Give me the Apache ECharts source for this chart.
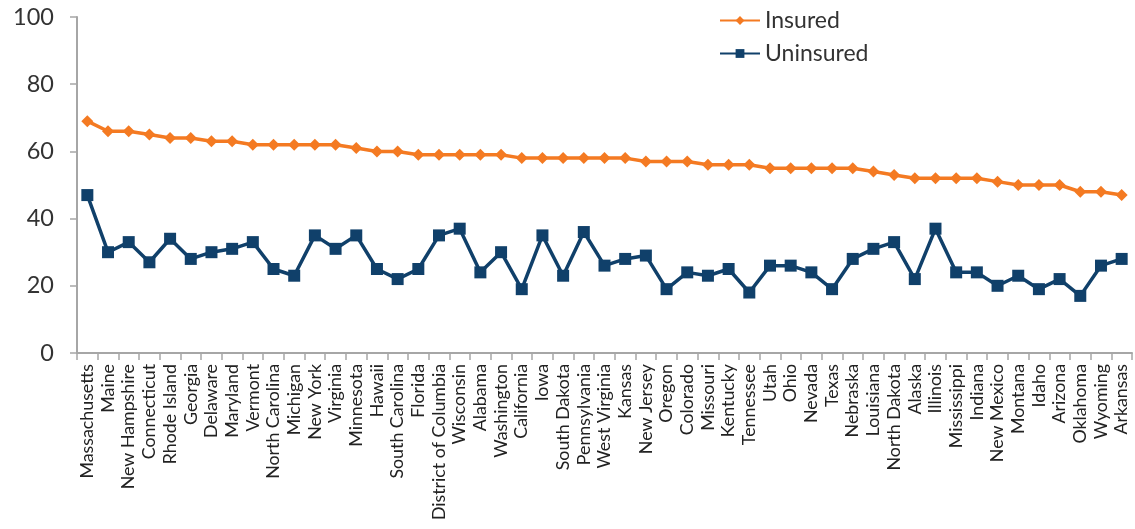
<!DOCTYPE html>
<html>
<head>
<meta charset="utf-8">
<script src="https://cdn.jsdelivr.net/npm/echarts@6/dist/echarts.min.js"></script>
<style>
  html, body { margin: 0; padding: 0; background: #fff; }
  #chart { width: 1135px; height: 529px; }
</style>
</head>
<body>
<div id="chart"></div>
<script>
const states = ['Massachusetts','Maine','New Hampshire','Connecticut','Rhode Island','Georgia','Delaware','Maryland','Vermont','North Carolina','Michigan','New York','Virginia','Minnesota','Hawaii','South Carolina','Florida','District of Columbia','Wisconsin','Alabama','Washington','California','Iowa','South Dakota','Pennsylvania','West Virginia','Kansas','New Jersey','Oregon','Colorado','Missouri','Kentucky','Tennessee','Utah','Ohio','Nevada','Texas','Nebraska','Louisiana','North Dakota','Alaska','Illinois','Mississippi','Indiana','New Mexico','Montana','Idaho','Arizona','Oklahoma','Wyoming','Arkansas'];

const insured = [69,66,66,65,64,64,63,63,62,62,62,62,62,61,60,60,59,59,59,59,59,58,58,58,58,58,58,57,57,57,56,56,56,55,55,55,55,55,54,53,52,52,52,52,51,50,50,50,48,48,47];

const uninsured = [47,30,33,27,34,28,30,31,33,25,23,35,31,35,25,22,25,35,37,24,30,19,35,23,36,26,28,29,19,24,23,25,18,26,26,24,19,28,31,33,22,37,24,24,20,23,19,22,17,26,28];

const yTicks = [0, 20, 40, 60, 80, 100];

const chart = echarts.init(document.getElementById('chart'));
const font = 'Lato, "Open Sans", sans-serif';

chart.setOption({
  animation: false,
  textStyle: { fontFamily: font },
  grid: { left: 77, right: 3, top: 17, bottom: 176, containLabel: false },
  legend: {
    orient: 'vertical',
    left: 714,
    top: 4,
    itemWidth: 40,
    itemHeight: 11,
    itemGap: 10,
    textStyle: { fontSize: 23, color: '#333', fontFamily: font },
    data: ['Insured', 'Uninsured']
  },
  xAxis: {
    type: 'category',
    data: states,
    boundaryGap: true,
    axisLine: { lineStyle: { color: '#a6a6a6', width: 2 } },
    axisTick: { show: true, alignWithLabel: false, length: 7, lineStyle: { color: '#a6a6a6', width: 1.5 } },
    axisLabel: { rotate: 90, interval: 0, fontSize: 17.8, color: '#222', margin: 11, fontFamily: font }
  },
  yAxis: {
    type: 'value',
    min: yTicks[0],
    max: yTicks[yTicks.length - 1],
    interval: 20,
    splitLine: { show: false },
    axisLine: { show: true, lineStyle: { color: '#a6a6a6', width: 2 } },
    axisTick: { show: true, length: 7, lineStyle: { color: '#a6a6a6', width: 1.5 } },
    axisLabel: { fontSize: 23.5, color: '#333', margin: 23, fontFamily: font }
  },
  series: [
    {
      name: 'Insured',
      type: 'line',
      data: insured,
      symbol: 'diamond',
      symbolSize: 12,
      color: '#F47A22',
      lineStyle: { width: 3.5, color: '#F47A22' },
      itemStyle: { color: '#F47A22' }
    },
    {
      name: 'Uninsured',
      type: 'line',
      data: uninsured,
      symbol: 'rect',
      symbolSize: 12,
      color: '#10406A',
      lineStyle: { width: 3.5, color: '#10406A' },
      itemStyle: { color: '#10406A' }
    }
  ]
});
</script>
</body>
</html>
